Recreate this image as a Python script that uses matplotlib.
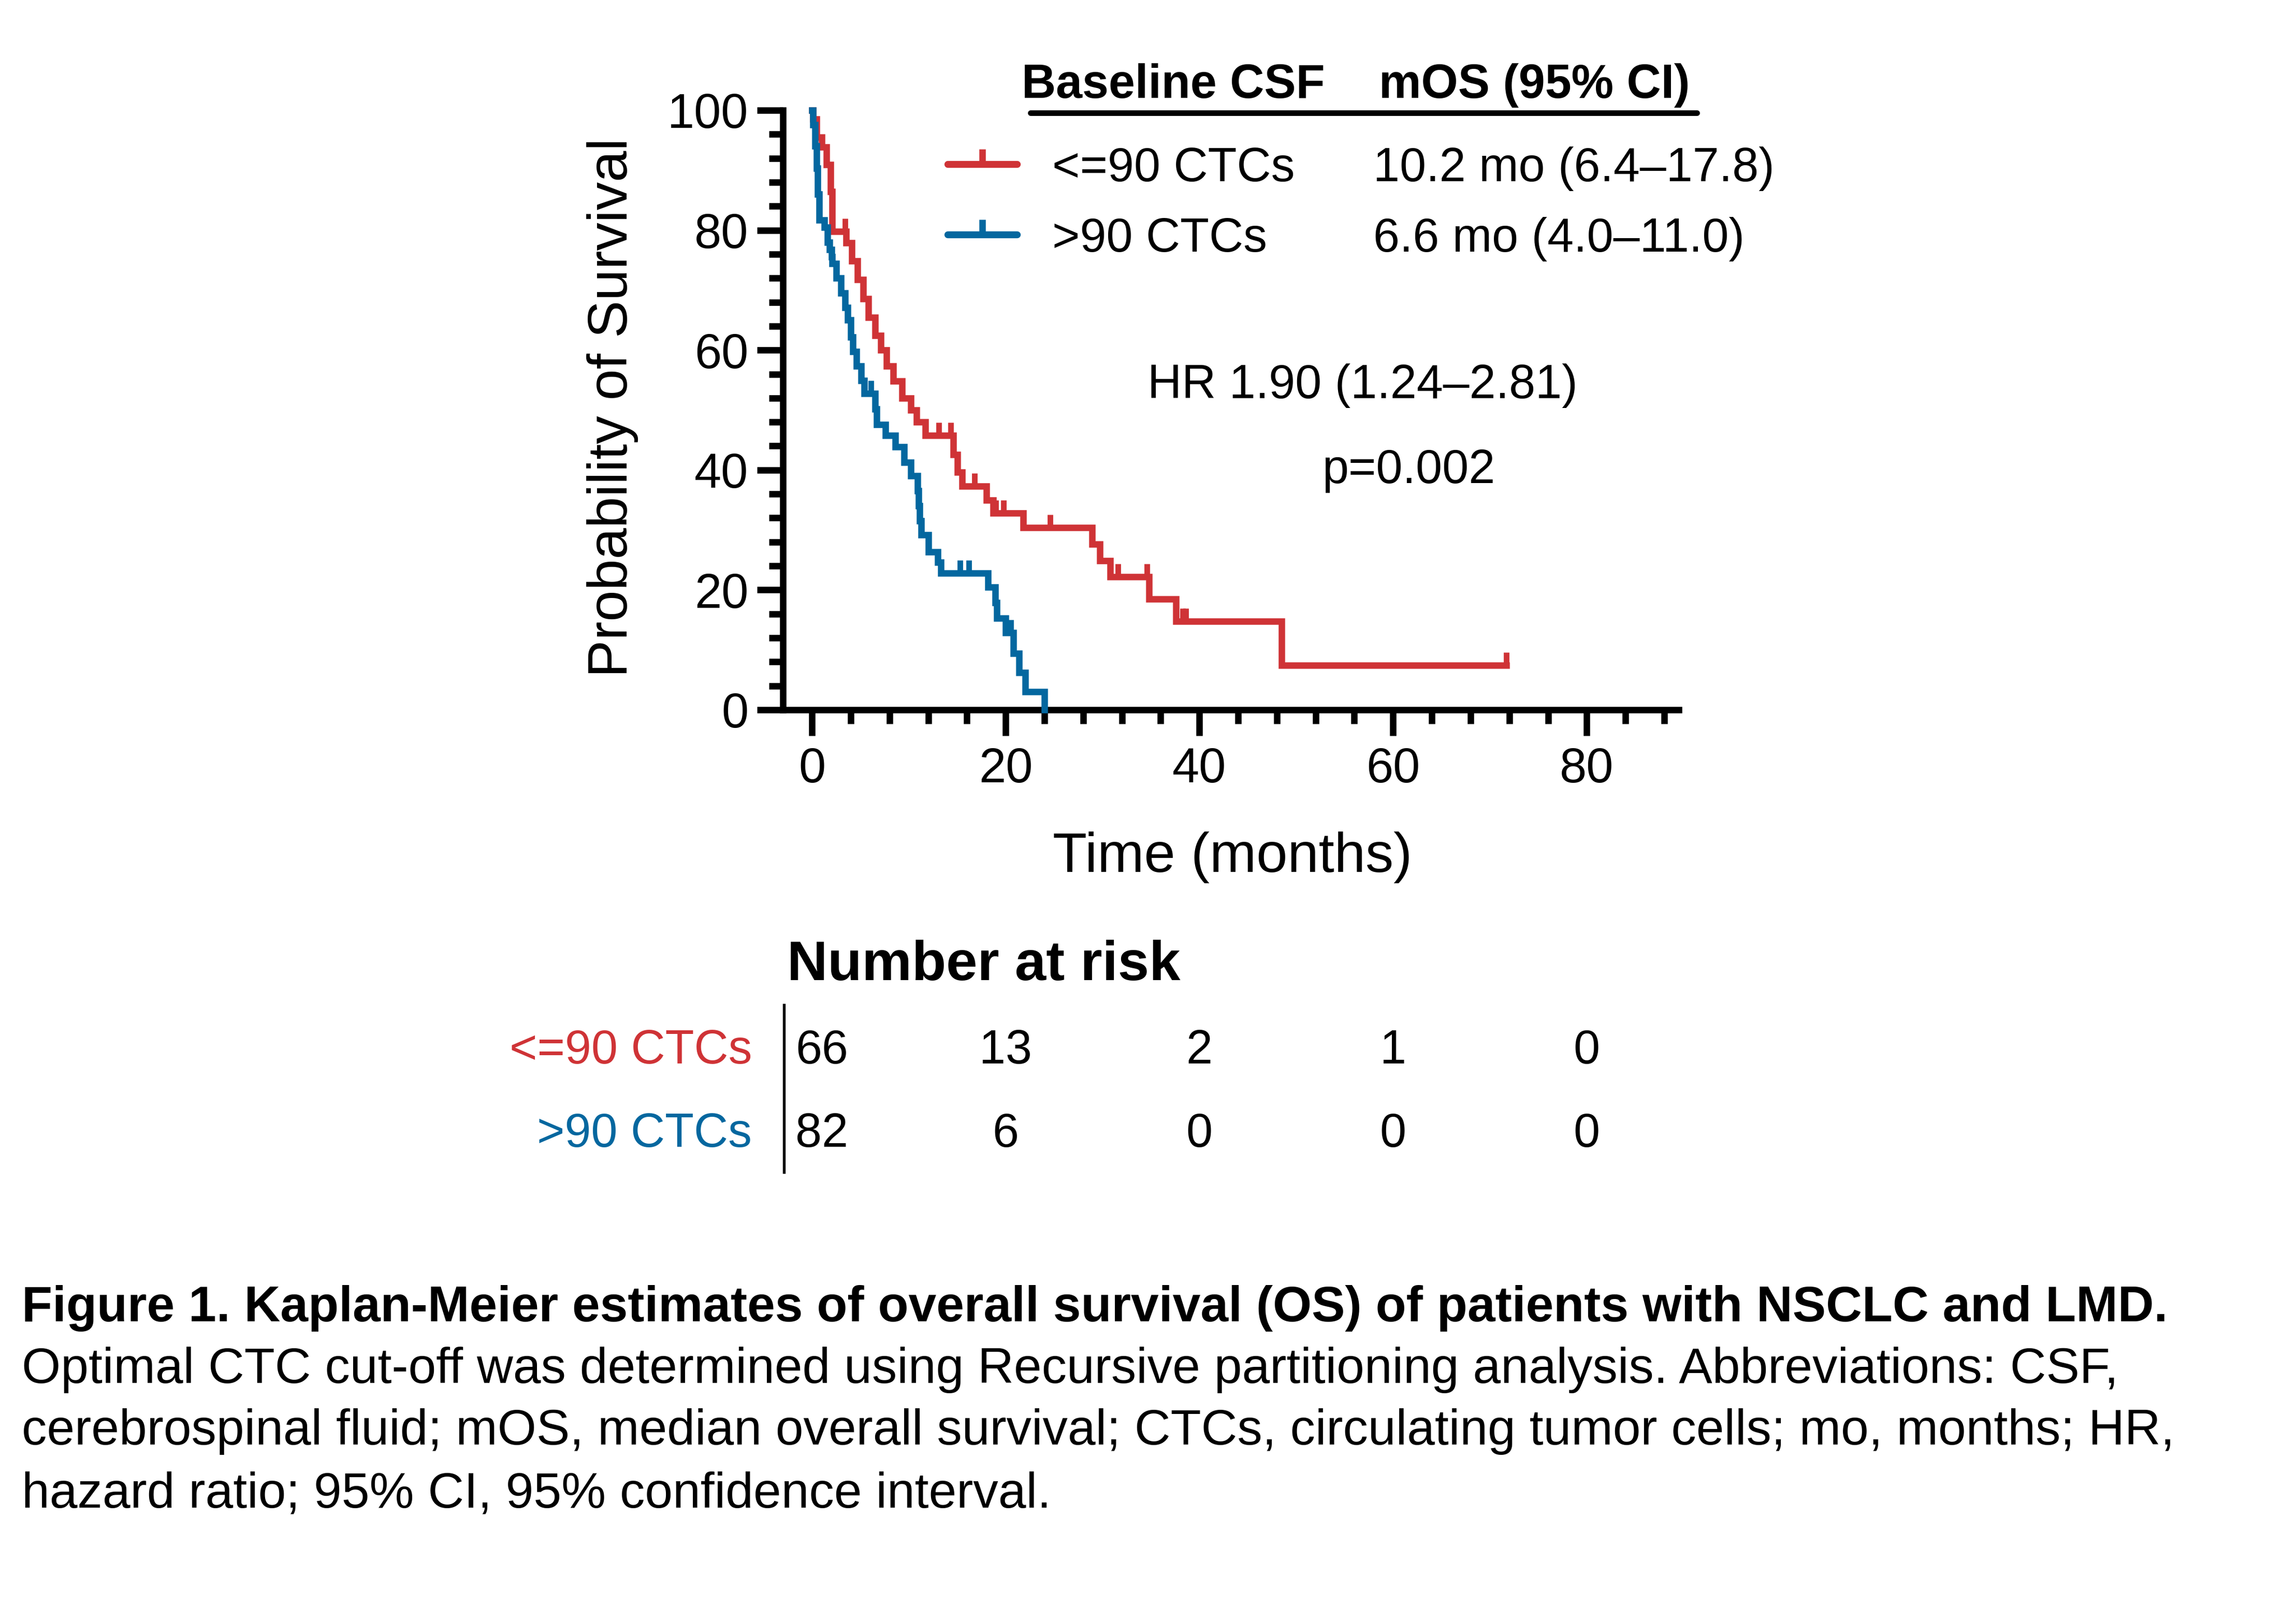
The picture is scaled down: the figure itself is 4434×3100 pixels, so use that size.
import numpy as np
import matplotlib
matplotlib.use("Agg")
import matplotlib.pyplot as plt
from matplotlib.lines import Line2D
from matplotlib import transforms
from matplotlib.ticker import FixedLocator

plt.rcParams['font.family'] = ['Liberation Sans', 'DejaVu Sans']

W, H = 4434, 3100
DPI = 300
RED = '#CF3336'
BLUE = '#04679F'

# Kaplan-Meier steps: time of each drop (months), survival after it (%)
low_t = [0, 0.1, 0.5, 1.0, 1.5, 1.9, 2.1, 3.5, 4.1, 4.7, 5.3, 5.8, 6.5, 7.1, 7.7, 8.4,
         9.3, 10.2, 10.8, 11.7, 14.6, 15.0, 15.5, 18.0, 18.7, 21.8, 28.9, 29.7, 30.8,
         34.8, 37.6, 48.5]
low_s = [100, 98.5, 95.5, 93.9, 90.9, 86.4, 79.8, 77.9, 74.9, 71.8, 68.6, 65.5, 62.4,
         60.0, 57.3, 54.8, 52.0, 50.0, 48.0, 45.8, 42.6, 39.6, 37.3, 35.0, 32.8, 30.4,
         27.6, 24.9, 22.2, 18.5, 14.8, 7.4]
low_end = 71.7
low_cens = [3.4, 13.1, 14.3, 16.8, 19.0, 19.8, 24.6, 31.6, 34.6, 38.3, 38.6, 71.7]

high_t = [0, 0.1, 0.3, 0.5, 0.6, 0.75, 1.3, 1.6, 1.8, 2.0, 2.1, 2.5, 3.0, 3.4, 3.7, 4.0,
          4.2, 4.6, 5.1, 5.4, 6.5, 6.7, 7.6, 8.6, 9.5, 10.2, 10.9, 11.0, 11.1, 11.3,
          12.0, 13.0, 13.3, 18.2, 18.9, 19.1, 20.0, 20.8, 21.4, 22.0, 24.0]
high_s = [100, 97.6, 94.0, 90.3, 86.0, 81.7, 80.5, 78.0, 76.8, 75.6, 74.4, 72.0, 69.5,
          67.1, 65.0, 62.2, 59.8, 57.3, 54.9, 52.8, 50.2, 47.6, 45.8, 43.9, 41.3, 39.0,
          36.5, 34.0, 31.5, 29.2, 26.3, 24.6, 22.8, 20.5, 17.9, 15.3, 12.9, 9.4, 6.2,
          3.0, 0]
high_cens = [6.1, 15.3, 16.2, 20.5]

group_names = ['<=90 CTCs', '>90 CTCs']
mos_text = ['10.2 mo (6.4\u201317.8)', '6.6 mo (4.0\u201311.0)']
hr_text = 'HR 1.90 (1.24\u20132.81)'
p_text = 'p=0.002'

risk_times = [0, 20, 40, 60, 80]
risk_low = [66, 13, 2, 1, 0]
risk_high = [82, 6, 0, 0, 0]

caption_bold = ('Figure 1. Kaplan-Meier estimates of overall survival (OS) of patients '
                'with NSCLC and LMD.')
caption_lines = [
    'Optimal CTC cut-off was determined using Recursive partitioning analysis. '
    'Abbreviations: CSF,',
    'cerebrospinal fluid; mOS, median overall survival; CTCs, circulating tumor cells; '
    'mo, months; HR,',
    'hazard ratio; 95% CI, 95% confidence interval.',
]


def fx(px):
    return px / W


def fy(py):
    return 1 - py / H


def level_at(t, s, times):
    idx = np.searchsorted(t, times, side='right') - 1
    return np.asarray(s)[idx]


fig = plt.figure(figsize=(W / DPI, H / DPI), dpi=DPI)
ax = fig.add_axes([fx(1512), fy(1371), (3242 - 1512) / W, (1371 - 213) / H])

# curves
lt = low_t + [low_end]
ls = low_s + [low_s[-1]]
ax.step(lt, ls, where='post', color=RED, lw=3.0, clip_on=False,
        solid_joinstyle='miter', zorder=3)
ax.step(high_t, high_s, where='post', color=BLUE, lw=3.0, clip_on=False,
        solid_joinstyle='miter', zorder=3)

# censor ticks
ax.plot(low_cens, level_at(low_t, low_s, low_cens), ls='none', marker=2, ms=6,
        mew=2.6, color=RED, clip_on=False, zorder=3)
ax.plot(high_cens, level_at(high_t, high_s, high_cens), ls='none', marker=2, ms=6,
        mew=2.6, color=BLUE, clip_on=False, zorder=3)

ax.set_xlim(-3.0, 89.5)
ax.set_ylim(0, 100)
for side in ['top', 'right']:
    ax.spines[side].set_visible(False)
for side in ['left', 'bottom']:
    ax.spines[side].set_linewidth(3.0)

ax.set_xticks([0, 20, 40, 60, 80])
ax.xaxis.set_minor_locator(FixedLocator(np.arange(4, 89, 4)))
ax.set_yticks([0, 20, 40, 60, 80, 100])
ax.yaxis.set_minor_locator(FixedLocator(np.arange(4, 100, 4)))
ax.tick_params(axis='both', which='major', length=12, width=3.0, labelsize=22.5)
ax.tick_params(axis='both', which='minor', length=6.5, width=3.0)
ax.tick_params(axis='x', which='major', pad=5)
ax.tick_params(axis='y', which='major', pad=4)

ax.set_xlabel('Time (months)', fontsize=26)
ax.xaxis.set_label_coords(0.502, -0.246)
ax.xaxis.label.set_va('center')
ax.set_ylabel('Probability of Survival', fontsize=26)
ax.yaxis.set_label_coords(-0.190, 0.504)
ax.yaxis.label.set_va('center')

# legend block
fig.text(fx(1973), fy(189), 'Baseline CSF', fontsize=22, fontweight='bold', va='baseline')
fig.text(fx(2663), fy(189), 'mOS (95% CI)', fontsize=22, fontweight='bold', va='baseline')
fig.add_artist(Line2D([fx(1990), fx(3277)], [fy(218), fy(218)], transform=fig.transFigure,
                      color='black', lw=2.6, solid_capstyle='round'))
for name, mos, col, yc in zip(group_names, mos_text, [RED, BLUE], [317, 453]):
    fig.add_artist(Line2D([fx(1830), fx(1964)], [fy(yc), fy(yc)], transform=fig.transFigure,
                          color=col, lw=3.2, solid_capstyle='round'))
    fig.add_artist(Line2D([fx(1897)], [fy(yc)], transform=fig.transFigure, ls='none',
                          marker=2, ms=7, mew=3.0, color=col))
    fig.text(fx(2032), fy(yc + 33), name, fontsize=22, va='baseline')
    fig.text(fx(2652), fy(yc + 33), mos, fontsize=22, va='baseline')

fig.text(fx(2216), fy(769), hr_text, fontsize=22, va='baseline')
fig.text(fx(2553), fy(933), p_text, fontsize=22, va='baseline')

# number at risk table
fig.text(fx(1520), fy(1893), 'Number at risk', fontsize=26, fontweight='bold', va='baseline')
fig.add_artist(Line2D([fx(1514), fx(1514)], [fy(1941), fy(2264)], transform=fig.transFigure,
                      color='black', lw=1.3))
tr = transforms.blended_transform_factory(ax.transData, fig.transFigure)
for name, counts, col, yb in zip(group_names, [risk_low, risk_high], [RED, BLUE], [2054, 2215]):
    fig.text(fx(1452), fy(yb), name, fontsize=22, color=col, ha='right', va='baseline')
    for t, n in zip(risk_times, counts):
        if t == 0:
            fig.text(-1.7, fy(yb), str(n), fontsize=22, ha='left', va='baseline', transform=tr)
        else:
            fig.text(t, fy(yb), str(n), fontsize=22, ha='center', va='baseline', transform=tr)

# caption
fig.text(fx(42), fy(2552), caption_bold, fontsize=23.2, fontweight='bold', va='baseline')
for line, yb in zip(caption_lines, [2671, 2790, 2911]):
    fig.text(fx(42), fy(yb), line, fontsize=23.2, va='baseline')

fig.savefig('out.png', dpi=DPI, facecolor='white')
